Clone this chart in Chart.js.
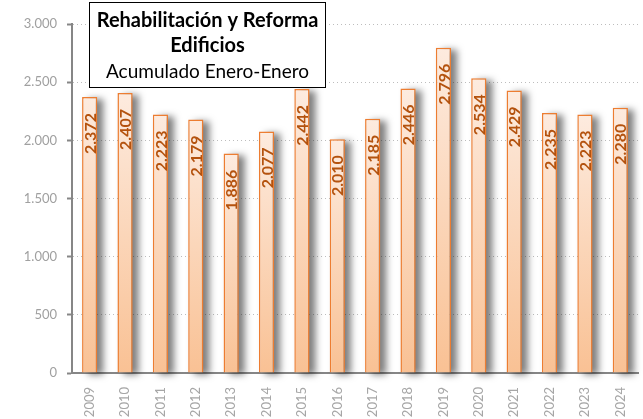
<!DOCTYPE html>
<html>
<head>
<meta charset="utf-8">
<script src="https://cdn.jsdelivr.net/npm/chart.js@4"></script>
<style>
  html, body { margin: 0; padding: 0; background: #fff; }
  #wrap { position: relative; width: 643px; height: 419px; }
</style>
</head>
<body>
<div id="wrap"><canvas id="myBarChart" width="643" height="419"></canvas></div>
<script>
const years = ['2009', '2010', '2011', '2012', '2013', '2014', '2015', '2016',
               '2017', '2018', '2019', '2020', '2021', '2022', '2023', '2024'];
const values = [2372, 2407, 2223, 2179, 1886, 2077, 2442, 2010,
                2185, 2446, 2796, 2534, 2429, 2235, 2223, 2280];
const titleLines = ['Rehabilitación y Reforma', 'Edificios', 'Acumulado Enero-Enero'];

const fmt = (v) => String(v).replace(/\B(?=(\d{3})+(?!\d))/g, '.');

// soft shadow to the right of each bar (rect drawn off-canvas, only its shadow lands)
const barShadow = {
    id: 'barShadow',
    beforeDatasetsDraw(chart) {
        const ctx = chart.ctx;
        const meta = chart.getDatasetMeta(0);
        ctx.save();
        ctx.shadowColor = 'rgba(0,0,0,0.5)';
        ctx.shadowOffsetX = 2000 + 6;
        ctx.shadowOffsetY = 2;
        ctx.shadowBlur = 7;
        ctx.fillStyle = '#000';
        meta.data.forEach((bar) => {
            const w = bar.width;
            ctx.fillRect(bar.x - w / 2 - 2000, bar.y, w, bar.base - bar.y);
        });
        ctx.restore();
    }
};

// value labels inside the bars + title box
const labelsAndTitle = {
    id: 'labelsAndTitle',
    afterDatasetsDraw(chart) {
        const ctx = chart.ctx;
        const meta = chart.getDatasetMeta(0);
        ctx.save();
        ctx.font = 'bold 16px Lato';
        ctx.fillStyle = '#b4520e';
        ctx.textAlign = 'right';
        ctx.textBaseline = 'middle';
        meta.data.forEach((bar, i) => {
            ctx.save();
            ctx.translate(bar.x + 1, bar.y + 16);
            ctx.rotate(-Math.PI / 2);
            ctx.fillText(fmt(values[i]), 0, 0);
            ctx.restore();
        });
        ctx.restore();
    },
    afterDraw(chart) {
        const ctx = chart.ctx;
        ctx.save();
        ctx.fillStyle = '#fff';
        ctx.fillRect(89, 2, 237, 86);
        ctx.strokeStyle = '#000';
        ctx.lineWidth = 1;
        ctx.strokeRect(89.5, 2.5, 236, 85);
        ctx.fillStyle = '#000';
        ctx.textAlign = 'center';
        ctx.textBaseline = 'alphabetic';
        ctx.font = 'bold 20px Lato';
        ctx.fillText(titleLines[0], 207.5, 27);
        ctx.fillText(titleLines[1], 207.5, 52);
        ctx.font = '19px Lato';
        ctx.fillText(titleLines[2], 207.5, 78);
        ctx.restore();
    }
};

var ctx = document.getElementById('myBarChart').getContext('2d');
var chart = new Chart(ctx, {
    type: 'bar',
    data: {
        labels: years,
        datasets: [{
            data: values,
            backgroundColor: function (c) {
                const ch = c.chart;
                const y = ch.scales.y;
                if (!ch.chartArea || !y || c.raw === undefined) return '#fbd3b3';
                const top = y.getPixelForValue(c.raw);
                const bottom = y.getPixelForValue(0);
                const g = ch.ctx.createLinearGradient(0, top, 0, bottom);
                g.addColorStop(0, '#fdebdf');
                g.addColorStop(1, '#f9c194');
                return g;
            },
            borderColor: '#ed7d31',
            borderWidth: 1.5,
            barPercentage: 0.43,
            categoryPercentage: 1,
        }]
    },
    options: {
        responsive: false,
        animation: false,
        events: [],
        layout: {
            padding: { top: 24, right: 5, left: 0, bottom: 0 }
        },
        scales: {
            y: {
                min: 0,
                max: 3000,
                afterFit(scale) { scale.width = 72; },
                ticks: {
                    stepSize: 500,
                    padding: 10,
                    color: '#a0a0a0',
                    font: { family: 'Lato', size: 13 },
                    callback: (v) => fmt(v),
                },
                grid: {
                    color: '#bdbdbd',
                    lineWidth: 1,
                    tickLength: 5,
                    tickColor: '#868686',
                    tickWidth: 2,
                    borderDash: [1, 3],
                },
                border: {
                    display: true,
                    color: '#868686',
                    width: 2,
                    dash: [1, 3],
                },
            },
            x: {
                afterFit(scale) { scale.height = 46; },
                grid: { display: false },
                border: { display: true, color: '#868686', width: 2 },
                ticks: {
                    minRotation: 90,
                    maxRotation: 90,
                    padding: 6,
                    color: '#a6a6a6',
                    font: { family: 'Lato', size: 13 },
                },
            }
        },
        plugins: {
            legend: { display: false },
            tooltip: { enabled: false }
        }
    },
    plugins: [barShadow, labelsAndTitle]
});
</script>
</body>
</html>
